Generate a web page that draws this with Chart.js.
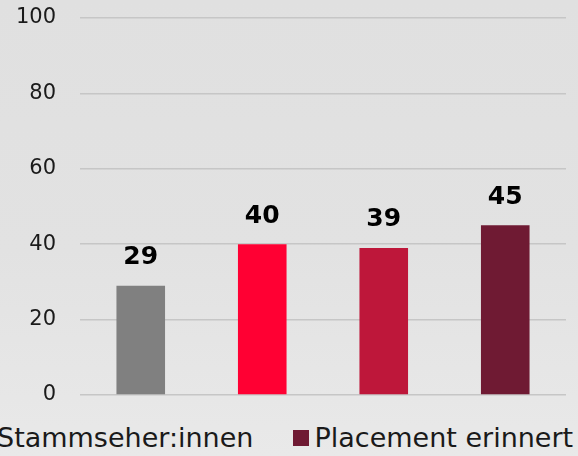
<!DOCTYPE html>
<html>
<head>
<meta charset="utf-8">
<script src="https://cdn.jsdelivr.net/npm/chart.js@4"></script>
<style>
    html, body {
        margin: 0;
        padding: 0;
        width: 578px;
        height: 456px;
        overflow: hidden;
        background: linear-gradient(#e0e0e0 0%, #e2e2e2 55%, #e9e9e9 100%);
        font-family: "DejaVu Sans", sans-serif;
    }
    #wrap {
        position: absolute;
        left: 0;
        top: 0;
        width: 578px;
        height: 420px;
    }
    #legend {
        position: absolute;
        top: 422px;
        left: -24px;
        white-space: nowrap;
        font-size: 27px;
        color: #1a1a1a;
        display: flex;
        align-items: center;
    }
    .item {
        display: inline-flex;
        align-items: center;
        margin-right: 40px;
    }
    .box {
        width: 16px;
        height: 16px;
        margin-right: 5px;
        display: inline-block;
    }
</style>
</head>
<body>
<div id="wrap"><canvas id="chart"></canvas></div>
<div id="legend"></div>
<script>
// Chart data
const categories = ['Stammseher:innen', 'Gruppe 2', 'Gruppe 3', 'Placement erinnert'];
const values = [29, 40, 39, 45];
const barColors = ['#808080', '#ff0033', '#be173a', '#6f1a33'];
const yTicks = [0, 20, 40, 60, 80, 100];
const legendLabels = ['Stammseher:innen', 'Placement erinnert'];
const legendColors = ['#808080', '#6f1a33'];

// Simple value labels above the bars
const valueLabels = {
    id: 'valueLabels',
    afterDatasetsDraw(chart) {
        const ctx = chart.ctx;
        const meta = chart.getDatasetMeta(0);
        ctx.save();
        ctx.font = 'bold 25px "DejaVu Sans", sans-serif';
        ctx.fillStyle = '#000';
        ctx.textAlign = 'center';
        ctx.textBaseline = 'middle';
        meta.data.forEach((bar, i) => {
            ctx.fillText(values[i], bar.x, bar.y - 28);
        });
        ctx.restore();
    }
};

function buildLegend() {
    const legend = document.getElementById('legend');
    legendLabels.forEach((label, i) => {
        const item = document.createElement('span');
        item.className = 'item';
        const box = document.createElement('span');
        box.className = 'box';
        box.style.background = legendColors[i];
        item.appendChild(box);
        item.appendChild(document.createTextNode(label));
        legend.appendChild(item);
    });
}

function initChart() {
    const ctx = document.getElementById('chart').getContext('2d');
    new Chart(ctx, {
        type: 'bar',
        data: {
            labels: categories,
            datasets: [{
                data: values,
                backgroundColor: barColors,
                borderWidth: 0,
                categoryPercentage: 1,
                barPercentage: 0.4
            }]
        },
        options: {
            responsive: true,
            maintainAspectRatio: false,
            animation: false,
            layout: {
                padding: { top: 18, right: 12, bottom: 25, left: 0 }
            },
            plugins: {
                legend: { display: false },
                tooltip: { enabled: false }
            },
            scales: {
                x: {
                    display: false
                },
                y: {
                    min: 0,
                    max: 100,
                    afterFit: (scale) => { scale.width = 80; },
                    afterBuildTicks: (scale) => {
                        scale.ticks = yTicks.map(v => ({ value: v }));
                    },
                    border: { display: false },
                    grid: {
                        color: '#c6c6c6',
                        lineWidth: 1.5,
                        drawTicks: true,
                        tickLength: 24,
                        tickColor: 'rgba(0,0,0,0)'
                    },
                    ticks: {
                        padding: 0,
                        color: '#1a1a1a',
                        font: { family: '"DejaVu Sans", sans-serif', size: 21 }
                    }
                }
            }
        },
        plugins: [valueLabels]
    });
}

buildLegend();
initChart();
</script>
</body>
</html>
